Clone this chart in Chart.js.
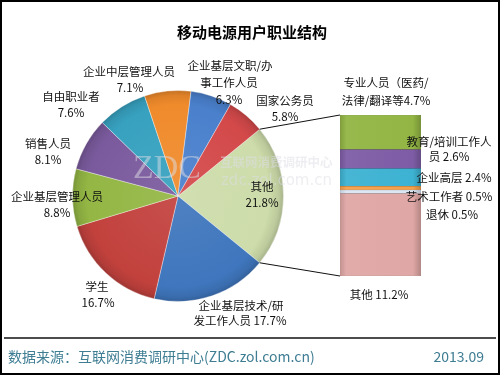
<!DOCTYPE html>
<html>
<head>
<meta charset="utf-8">
<script src="https://cdn.jsdelivr.net/npm/chart.js@4.4.1/dist/chart.umd.min.js"></script>
<style>
  html, body { margin: 0; padding: 0; background: #ffffff; }
  #wrap { position: relative; width: 500px; height: 375px; overflow: hidden; background: #fff; }
  #wrap canvas { position: absolute; left: 0; top: 0; }
</style>
</head>
<body>
<div id="wrap">
  <canvas id="pie" width="500" height="375"></canvas>
  <canvas id="bar" width="500" height="375"></canvas>
</div>
<script>
// ---------------- DATA ----------------
const chartTitle = '移动电源用户职业结构';
const pieCategories = ['其他', '企业基层技术/研发工作人员', '学生', '企业基层管理人员', '销售人员', '自由职业者', '企业中层管理人员', '企业基层文职/办事工作人员', '国家公务员'];
const pieShares = [21.8, 17.7, 16.7, 8.8, 8.1, 7.6, 7.1, 6.3, 5.8];
// breakdown of "其他", bottom to top
const barCategories = ['其他', '退休', '艺术工作者', '企业高层', '教育/培训工作人员', '专业人员（医药/法律/翻译等'];
const barShares = [11.2, 0.5, 0.5, 2.4, 2.6, 4.7];
const sourceText = '数据来源：互联网消费调研中心(ZDC.zol.com.cn)';
const dateText = '2013.09';

// ---------------- STYLE ----------------
const pieColors = ['#cddcaa', '#3f76bd', '#c2413d', '#93b644', '#7a5a9d', '#37a1bf', '#f08b2c', '#4a80cc', '#d3494a'];
const barColors = ['#dfa7a5', '#dbe6f3', '#f5a04a', '#3db2d2', '#7e5ca6', '#92b544'];
const labelFont = '11.5px "Noto Sans CJK SC", "DejaVu Sans", sans-serif';

// label layout (anchor centres, px)
const pieLabelLayout = [
  {i: 0, split: -1, join: false, pos: [[262, 187], [262, 203]]},
  {i: 1, split: 8, join: true, pos: [[241, 306], [240, 321]]},
  {i: 2, split: -1, join: false, pos: [[97, 287], [98, 303]]},
  {i: 3, split: -1, join: false, pos: [[57, 197], [57, 213]]},
  {i: 4, split: -1, join: false, pos: [[48, 144], [48, 160]]},
  {i: 5, split: -1, join: false, pos: [[71, 97], [71, 113]]},
  {i: 6, split: -1, join: false, pos: [[129, 72], [130, 88]]},
  {i: 7, split: 8, join: false, pos: [[230, 66], [229, 83], [229, 100]]},
  {i: 8, split: -1, join: false, pos: [[285, 101], [285, 117]]}
];
const barLabelLayout = [
  {i: 5, split: 8, sep: '', pos: [[386, 83], [386, 101]]},
  {i: 4, split: 8, sep: ' ', pos: [[449, 142], [449, 157]]},
  {i: 3, split: -1, sep: ' ', pos: [[454, 178]]},
  {i: 2, split: -1, sep: ' ', pos: [[449, 197]]},
  {i: 1, split: -1, sep: ' ', pos: [[452, 215]]},
  {i: 0, split: -1, sep: ' ', pos: [[379, 295]]}
];

function shade(hex, f) {
  const n = parseInt(hex.slice(1), 16);
  let r = (n >> 16) & 255, g = (n >> 8) & 255, b = n & 255;
  if (f >= 0) { r += (255 - r) * f; g += (255 - g) * f; b += (255 - b) * f; }
  else { r *= (1 + f); g *= (1 + f); b *= (1 + f); }
  return 'rgb(' + Math.round(r) + ',' + Math.round(g) + ',' + Math.round(b) + ')';
}

const pieTotal = pieShares.reduce((a, b) => a + b, 0);
const barTotal = barShares.reduce((a, b) => a + b, 0);

// ---------------- PIE ----------------
const pieChart = new Chart(document.getElementById('pie'), {
  type: 'pie',
  data: {
    labels: pieCategories,
    datasets: [{
      data: pieShares,
      backgroundColor: (ctx) => {
        const base = pieColors[ctx.dataIndex];
        const a = ctx.chart.chartArea;
        if (!a) return base;
        const cx = (a.left + a.right) / 2, cy = (a.top + a.bottom) / 2;
        const r = Math.min(a.width, a.height) / 2;
        const g = ctx.chart.ctx.createRadialGradient(cx, cy, 0, cx, cy, r);
        g.addColorStop(0, shade(base, 0.08));
        g.addColorStop(0.86, base);
        g.addColorStop(0.95, shade(base, -0.08));
        g.addColorStop(1, shade(base, -0.2));
        return g;
      },
      borderColor: 'rgba(255,255,255,0.35)',
      borderWidth: 1
    }]
  },
  options: {
    responsive: false,
    animation: false,
    devicePixelRatio: 1,
    rotation: 90 - pieShares[0] / pieTotal * 180,
    layout: { padding: { left: 72, right: 216, top: 90, bottom: 73 } },
    plugins: { legend: { display: false }, tooltip: { enabled: false }, title: { display: false } },
    events: []
  }
});

// ---------------- BAR (breakdown) + annotations ----------------
const overlayPlugin = {
  id: 'overlay',
  afterDraw(chart) {
    const c = chart.ctx;
    c.save();
    // connectors
    const arc = pieChart.getDatasetMeta(0).data[0];
    const R = arc.outerRadius;
    const p1 = [arc.x + R * Math.cos(arc.startAngle), arc.y + R * Math.sin(arc.startAngle)];
    const p2 = [arc.x + R * Math.cos(arc.endAngle), arc.y + R * Math.sin(arc.endAngle)];
    const topEl = chart.getDatasetMeta(barShares.length - 1).data[0];
    const botEl = chart.getDatasetMeta(0).data[0];
    c.strokeStyle = '#111';
    c.lineWidth = 1;
    c.beginPath();
    c.moveTo(p1[0], p1[1]); c.lineTo(topEl.x - topEl.width / 2, topEl.y);
    c.moveTo(p2[0], p2[1]); c.lineTo(botEl.x - botEl.width / 2, botEl.base);
    c.stroke();

    // watermark
    c.fillStyle = 'rgba(222,222,230,0.5)';
    c.textBaseline = 'alphabetic';
    c.textAlign = 'left';
    c.font = '34px "Liberation Serif", "DejaVu Serif", serif';
    c.fillText('ZDC', 133, 178);
    c.font = 'bold 12.5px "Noto Sans CJK SC", sans-serif';
    c.fillText('互联网消费调研中心', 220, 167);
    c.font = '15px "DejaVu Sans", sans-serif';
    c.fillText('zdc.zol.com.cn', 221, 185);

    // title
    c.fillStyle = '#000';
    c.textAlign = 'center';
    c.textBaseline = 'middle';
    c.font = 'bold 15px "Noto Sans CJK SC", sans-serif';
    c.fillText(chartTitle, 252, 32);

    // pie labels
    c.font = labelFont;
    c.fillStyle = '#111';
    pieLabelLayout.forEach(L => {
      const name = pieCategories[L.i];
      const val = pieShares[L.i].toFixed(1) + '%';
      let lines;
      if (L.split < 0) lines = [name, val];
      else if (L.join) lines = [name.slice(0, L.split), name.slice(L.split) + ' ' + val];
      else lines = [name.slice(0, L.split), name.slice(L.split), val];
      lines.forEach((t, k) => c.fillText(t, L.pos[k][0], L.pos[k][1]));
    });
    // bar labels
    barLabelLayout.forEach(L => {
      const name = barCategories[L.i];
      const val = barShares[L.i].toFixed(1) + '%';
      let lines;
      if (L.split < 0) lines = [name + L.sep + val];
      else lines = [name.slice(0, L.split), name.slice(L.split) + L.sep + val];
      lines.forEach((t, k) => c.fillText(t, L.pos[k][0], L.pos[k][1]));
    });

    // footer
    c.strokeStyle = '#111';
    c.lineWidth = 1.5;
    c.beginPath(); c.moveTo(4, 338); c.lineTo(496, 338); c.stroke();
    c.fillStyle = '#3f7d93';
    c.font = '14px "Noto Sans CJK SC", sans-serif';
    c.textAlign = 'left';
    c.fillText(sourceText, 8, 357);
    c.textAlign = 'right';
    c.fillText(dateText, 484, 357);

    // outer border
    c.strokeStyle = '#000';
    c.lineWidth = 2;
    c.strokeRect(1, 1, 498, 373);
    c.restore();
  }
};

new Chart(document.getElementById('bar'), {
  type: 'bar',
  data: {
    labels: [''],
    datasets: barShares.map((v, i) => ({
      label: barCategories[i],
      data: [v],
      backgroundColor: (ctx) => {
        const base = barColors[i];
        const a = ctx.chart.chartArea;
        if (!a) return base;
        const g = ctx.chart.ctx.createLinearGradient(a.left, 0, a.right, 0);
        g.addColorStop(0, shade(base, -0.12));
        g.addColorStop(0.08, shade(base, 0.05));
        g.addColorStop(0.9, base);
        g.addColorStop(1, shade(base, -0.2));
        return g;
      },
      borderColor: shade(barColors[i], -0.3),
      borderWidth: 0.5,
      borderSkipped: false,
      barPercentage: 1,
      categoryPercentage: 1
    }))
  },
  options: {
    responsive: false,
    animation: false,
    devicePixelRatio: 1,
    layout: { padding: { left: 340, right: 79, top: 115, bottom: 99 } },
    scales: {
      x: { display: false, stacked: true },
      y: { display: false, stacked: true, min: 0, max: barTotal }
    },
    plugins: { legend: { display: false }, tooltip: { enabled: false }, title: { display: false } },
    events: []
  },
  plugins: [overlayPlugin]
});
</script>
</body>
</html>
